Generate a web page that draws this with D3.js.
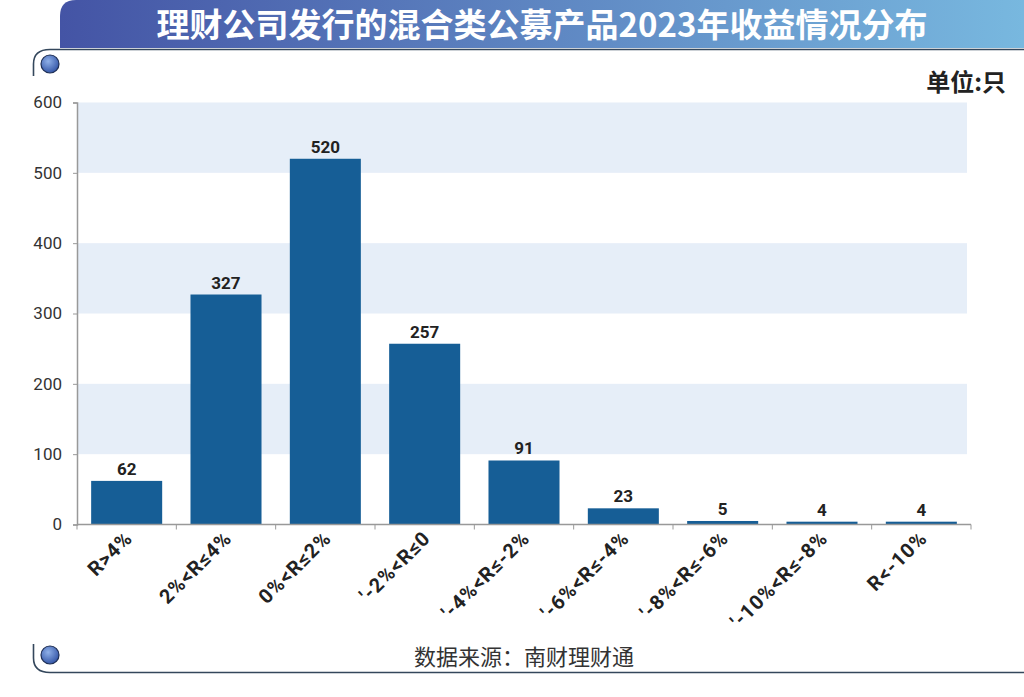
<!DOCTYPE html>
<html>
<head>
<meta charset="utf-8">
<script src="https://cdn.jsdelivr.net/npm/d3@7"></script>
<style>
  body { margin: 0; background: #fff; }
  svg { display: block; }
</style>
</head>
<body>
<div id="chart"></div>
<script>
// data
var categories = ["R>4%", "2%<R≤4%", "0%<R≤2%", "'-2%<R≤0", "'-4%<R≤-2%",
                  "'-6%<R≤-4%", "'-8%<R≤-6%", "'-10%<R≤-8%", "R<-10%"];
var counts = [62, 327, 520, 257, 91, 23, 5, 4, 4];
var yTicks = [0, 100, 200, 300, 400, 500, 600];
var bands = [[500, 600], [300, 400], [100, 200]];

var title = "理财公司发行的混合类公募产品2023年收益情况分布";
var unit = "单位:只";
var source = "数据来源：南财理财通";

var width = 1024, height = 697;

var svg = d3.select("#chart").append("svg")
            .attr("width", width)
            .attr("height", height);

var defs = svg.append("defs");

var grad = defs.append("linearGradient")
               .attr("id", "head")
               .attr("x1", "0%").attr("x2", "100%");
grad.append("stop").attr("offset", "0%").attr("stop-color", "#4454a5");
grad.append("stop").attr("offset", "100%").attr("stop-color", "#78b8df");

var dot = defs.append("radialGradient")
              .attr("id", "dot")
              .attr("cx", "40%").attr("cy", "35%").attr("r", "65%");
dot.append("stop").attr("offset", "0%").attr("stop-color", "#8fb0e8");
dot.append("stop").attr("offset", "100%").attr("stop-color", "#3557a8");

// header banner
svg.append("path")
   .attr("d", "M60,48 L60,16 Q60,0 76,0 L1024,0 L1024,48 Z")
   .attr("fill", "url(#head)");

svg.append("text")
   .attr("x", 542)
   .attr("y", 37)
   .attr("text-anchor", "middle")
   .attr("fill", "#fff")
   .attr("font-family", "'Noto Sans CJK SC', sans-serif")
   .attr("font-weight", "bold")
   .attr("font-size", "33px")
   .text(title);

// frame lines and dots
svg.append("path")
   .attr("d", "M1024,49.5 L50,49.5 Q33.5,49.5 33.5,64 L33.5,76")
   .attr("fill", "none")
   .attr("stroke", "#34475c")
   .attr("stroke-width", 1.6);

svg.append("path")
   .attr("d", "M33.5,644 L33.5,658 Q33.5,672.5 50,672.5 L1024,672.5")
   .attr("fill", "none")
   .attr("stroke", "#34475c")
   .attr("stroke-width", 1.6);

[64, 655].forEach(function (cy) {
  svg.append("circle")
     .attr("cx", 50)
     .attr("cy", cy)
     .attr("r", 9)
     .attr("fill", "url(#dot)")
     .attr("stroke", "#1e2f55")
     .attr("stroke-width", 1.2);
});

svg.append("text")
   .attr("x", 1006)
   .attr("y", 91)
   .attr("text-anchor", "end")
   .attr("fill", "#222")
   .attr("font-family", "'Noto Sans CJK SC', sans-serif")
   .attr("font-weight", "bold")
   .attr("font-size", "24px")
   .text(unit);

// chart area
var x0 = 77, x1 = 971, yTop = 102.5, yBot = 524.5;

var x = d3.scaleBand()
          .domain(categories)
          .range([x0, x1])
          .paddingInner(0.285)
          .paddingOuter(0.1425);

var y = d3.scaleLinear()
          .domain([0, 600])
          .range([yBot, yTop]);

svg.append("g")
   .selectAll("rect")
   .data(bands)
   .enter()
   .append("rect")
   .attr("x", x0)
   .attr("width", 967 - x0)
   .attr("y", function (d) { return y(d[1]); })
   .attr("height", function (d) { return y(d[0]) - y(d[1]); })
   .attr("fill", "#e6eef8");

svg.append("g")
   .selectAll("rect")
   .data(counts)
   .enter()
   .append("rect")
   .attr("x", function (d, i) { return x(categories[i]); })
   .attr("width", x.bandwidth())
   .attr("y", function (d) { return y(d); })
   .attr("height", function (d) { return yBot - y(d); })
   .attr("fill", "#165e96");

svg.append("g")
   .selectAll("text")
   .data(counts)
   .enter()
   .append("text")
   .attr("x", function (d, i) { return x(categories[i]) + x.bandwidth() / 2; })
   .attr("y", function (d) { return y(d) - 6; })
   .attr("text-anchor", "middle")
   .attr("fill", "#222")
   .attr("font-family", "Roboto, sans-serif")
   .attr("font-weight", "bold")
   .attr("font-size", "17px")
   .text(function (d) { return d; });

// y axis
var yAxis = svg.append("g")
               .attr("transform", "translate(" + x0 + ",0)")
               .call(d3.axisLeft(y).tickValues(yTicks).tickSize(4).tickPadding(11));
yAxis.select(".domain").attr("stroke", "#999").attr("stroke-width", 1.5);
yAxis.selectAll(".tick line").attr("stroke", "#999");
yAxis.selectAll("text")
     .attr("fill", "#333")
     .attr("font-family", "Roboto, sans-serif")
     .attr("font-size", "17px");

// x axis, ticks sit between the bars
var step = x.step();
var edges = d3.range(categories.length + 1).map(function (i) { return x0 + i * step; });

svg.append("line")
   .attr("x1", x0).attr("x2", x1)
   .attr("y1", yBot).attr("y2", yBot)
   .attr("stroke", "#999")
   .attr("stroke-width", 1.5);

svg.append("g")
   .selectAll("line")
   .data(edges)
   .enter()
   .append("line")
   .attr("x1", function (d) { return d; })
   .attr("x2", function (d) { return d; })
   .attr("y1", yBot)
   .attr("y2", yBot + 5)
   .attr("stroke", "#999");

svg.append("g")
   .selectAll("text")
   .data(categories)
   .enter()
   .append("text")
   .attr("transform", function (d) {
     var cx = x(d) + x.bandwidth() / 2 + 7;
     return "translate(" + cx + "," + (yBot + 15) + ") rotate(-45)";
   })
   .attr("text-anchor", "end")
   .attr("fill", "#222")
   .attr("font-family", "Roboto, sans-serif")
   .attr("font-weight", "bold")
   .attr("font-size", "20px")
   .attr("letter-spacing", "1px")
   .text(function (d) { return d; });

svg.append("text")
   .attr("x", 524)
   .attr("y", 665)
   .attr("text-anchor", "middle")
   .attr("fill", "#333")
   .attr("font-family", "'Noto Sans CJK SC', sans-serif")
   .attr("font-size", "22px")
   .text(source);
</script>
</body>
</html>
